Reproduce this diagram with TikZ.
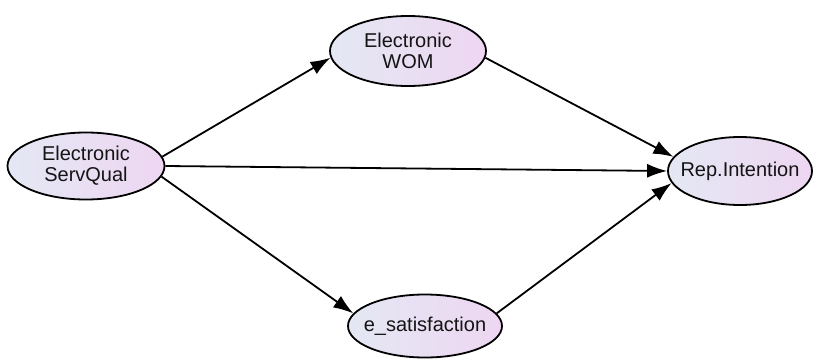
\documentclass[tikz,border=0pt]{standalone}
\usepackage{fontspec}
\setmainfont{Liberation Sans}
\usetikzlibrary{shapes.geometric,arrows.meta}
\definecolor{ovleft}{RGB}{228,232,243}
\definecolor{ovright}{RGB}{238,214,242}
\definecolor{ink}{RGB}{20,20,20}
\begin{document}
\begin{tikzpicture}[x=1pt,y=-1pt,
  latent/.style={ellipse,draw=black,line width=1.8pt,left color=ovleft,right color=ovright,
    inner xsep=-12pt,inner ysep=0pt,align=center,text=ink,font=\fontsize{20}{21}\selectfont},
  path/.style={line width=1.8pt,-{Latex[length=20pt,width=14pt]}}]
\useasboundingbox (0,0) rectangle (817,359);
\node[latent,minimum width=157pt,minimum height=67pt] (esq) at(86,166) {Electronic\\ServQual};
\node[latent,minimum width=156pt,minimum height=70pt] (wom) at(408,51) {Electronic\\WOM};
\node[latent,minimum width=144pt,minimum height=68pt] (rep) at(740,171) {Rep.Intention};
\node[latent,minimum width=154pt,minimum height=63pt] (sat) at(425,326) {e\_satisfaction};

\draw[path] (esq.7) -- (wom.185);
\draw[path] (esq.0) -- (rep.180);
\draw[path] (esq.-8) -- (sat.170);
\draw[path] (wom.-5) -- (rep.168);
\draw[path] (sat.10) -- (rep.190);
\end{tikzpicture}
\end{document}
